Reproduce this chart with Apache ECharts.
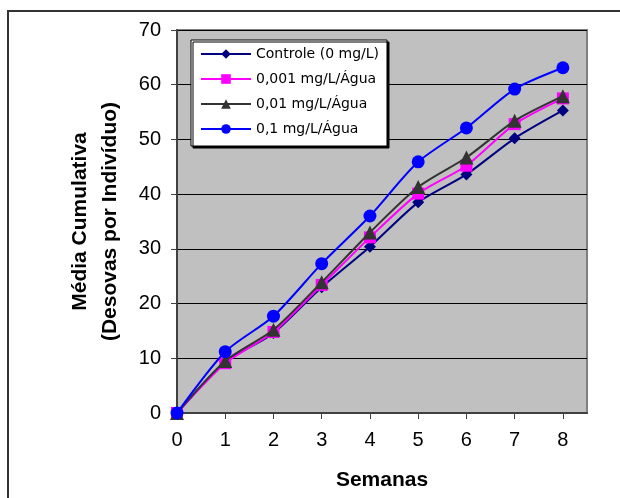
<!DOCTYPE html>
<html><head><meta charset="utf-8">
<script src="https://cdn.jsdelivr.net/npm/echarts@6/dist/echarts.min.js"></script>
<style>html,body{margin:0;padding:0;background:#fff}#c{width:620px;height:498px}</style>
</head><body><div id="c"></div>
<script>
const weeks = [0, 1, 2, 3, 4, 5, 6, 7, 8];
const seriesNames = ['Controle (0 mg/L)', '0,001 mg/L/Água', '0,01 mg/L/Água', '0,1 mg/L/Água'];
const controle = [0, 9.3, 14.6, 23.0, 30.4, 38.5, 43.6, 50.2, 55.3];
const c0001 = [0, 9.1, 14.8, 23.4, 32.1, 40.1, 45.2, 52.8, 57.5];
const c001 = [0, 9.5, 15.2, 23.9, 33.0, 41.3, 46.7, 53.4, 57.9];
const c01 = [0, 11.2, 17.7, 27.3, 36.0, 45.9, 52.1, 59.2, 63.1];
const yTicks = [0, 10, 20, 30, 40, 50, 60, 70];

const values = [controle, c0001, c001, c01];
const colors = ['#000080', '#FF00FF', '#333333', '#0000FF'];
const symbols = ['diamond', 'rect', 'triangle', 'circle'];
const sizes = [12, 12, 14, 13];

const chart = echarts.init(document.getElementById('c'));
chart.setOption({
  animation: false,
  backgroundColor: '#fff',
  grid: { left: 177, top: 30, right: 33, bottom: 85, show: true, backgroundColor: '#C0C0C0', borderColor: '#808080', borderWidth: 2 },
  graphic: [
    { type: 'line', shape: { x1: 8, y1: 11, x2: 620, y2: 11 }, style: { stroke: '#333', lineWidth: 2 } },
    { type: 'line', shape: { x1: 8, y1: 10, x2: 8, y2: 498 }, style: { stroke: '#333', lineWidth: 2 } }
  ],
  legend: {
    orient: 'vertical', left: 191, top: 40,
    data: seriesNames,
    backgroundColor: '#fff', borderColor: '#000', borderWidth: 1,
    shadowColor: '#000', shadowOffsetX: 2, shadowOffsetY: 2, shadowBlur: 0,
    padding: [7, 8, 10, 9], itemWidth: 50, itemHeight: 12, itemGap: 11,
    textStyle: { fontFamily: 'DejaVu Sans', fontSize: 14, color: '#000' }
  },
  xAxis: {
    type: 'value', min: 0, max: 8.5, interval: 1,
    name: 'Semanas', nameLocation: 'middle', nameGap: 57,
    nameTextStyle: { fontFamily: 'Liberation Sans', fontSize: 21, fontWeight: 'bold', color: '#000' },
    axisLine: { show: true, lineStyle: { color: '#404040', width: 2 } },
    axisTick: { show: true, length: 6, lineStyle: { color: '#404040' } },
    axisLabel: { fontFamily: 'Liberation Sans', fontSize: 20, color: '#000', margin: 17, showMaxLabel: false,
      formatter: v => (Number.isInteger(v) && weeks.includes(v)) ? String(v) : '' },
    splitLine: { show: false }
  },
  yAxis: {
    type: 'value', min: 0, max: 70, interval: 10,
    name: 'Média Cumulativa\n(Desovas por Indivíduo)', nameLocation: 'middle', nameGap: 52,
    nameTextStyle: { fontFamily: 'Liberation Sans', fontSize: 21, fontWeight: 'bold', color: '#000', lineHeight: 30 },
    axisLine: { show: true, lineStyle: { color: '#404040', width: 2 } },
    axisTick: { show: true, length: 6, lineStyle: { color: '#404040' } },
    axisLabel: { fontFamily: 'Liberation Sans', fontSize: 20, color: '#000', margin: 16,
      formatter: v => yTicks.includes(v) ? String(v) : '' },
    splitLine: { show: true, lineStyle: { color: '#000', width: 1 } }
  },
  series: values.map((vals, i) => ({
    name: seriesNames[i], type: 'line', smooth: 0.25,
    data: weeks.map((w, j) => [w, vals[j]]),
    symbol: symbols[i], symbolSize: sizes[i],
    lineStyle: { color: colors[i], width: 2 },
    itemStyle: { color: colors[i] },
    z: 2 + i
  }))
});
</script></body></html>
